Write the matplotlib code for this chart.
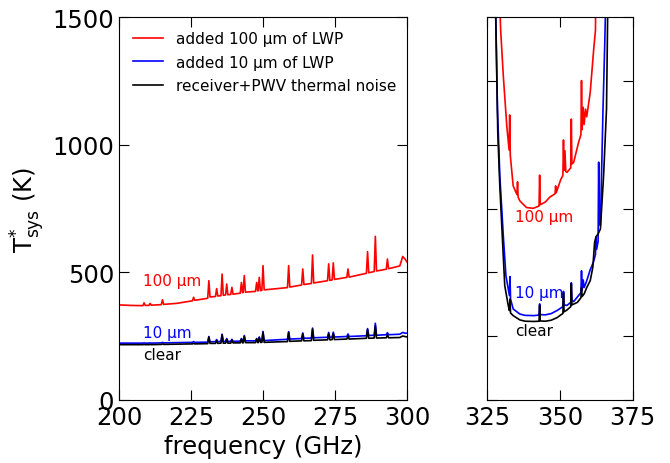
import matplotlib
matplotlib.use("Agg")
import matplotlib.pyplot as plt

# ---- left panel: 200-300 GHz, one frequency grid for all three curves ----
freq_left = [200, 204, 208.3, 208.7, 209.1, 210.4, 210.8, 211.2, 214.7, 215.1,
             215.5, 220, 225.5, 225.9, 226.3, 230.8, 231.2, 231.6, 233.5, 233.9,
             234.3, 235.4, 235.8, 236.2, 237.0, 237.4, 237.8, 238.8, 239.2, 239.6,
             242.1, 242.5, 242.9, 243.1, 243.5, 243.9, 247.4, 247.8, 248.2, 248.3,
             248.7, 249.1, 249.6, 250.0, 250.4, 255, 258.5, 258.9, 259.3, 263.4,
             263.8, 264.2, 266.8, 267.2, 267.6, 272.4, 272.8, 273.2, 274.0, 274.4,
             274.8, 279.1, 279.5, 279.9, 285.9, 286.3, 286.7, 288.6, 289.0, 289.4,
             292.8, 293.2, 293.6, 297.5, 298.5, 299.3, 300]
red_left = [372, 370, 369, 380, 370, 370, 378, 371, 373, 392,
            374, 378, 388, 402, 390, 398, 467, 403, 405, 436,
            407, 408, 493, 410, 411, 454, 412, 413, 441, 414,
            418, 460, 420, 421, 487, 422, 425, 460, 427, 427,
            480, 428, 429, 526, 431, 436, 440, 526, 442, 450,
            513, 452, 456, 568, 458, 467, 533, 468, 470, 537,
            472, 480, 513, 481, 496, 581, 498, 503, 641, 505,
            512, 552, 514, 525, 562, 552, 540]
blue_left = [222, 222, 222, 223, 222, 222, 223, 222, 223, 225,
             223, 224, 225, 228, 225, 226, 248, 227, 228, 236,
             228, 229, 257, 229, 229, 240, 229, 229, 237, 229,
             230, 240, 230, 230, 252, 231, 231, 240, 231, 231,
             246, 232, 232, 268, 232, 235, 237, 267, 238, 240,
             262, 241, 242, 281, 243, 245, 264, 245, 246, 265,
             246, 248, 258, 248, 251, 279, 252, 253, 300, 253,
             255, 263, 255, 257, 264, 261, 261]
black_left = [216, 216, 216, 217, 216, 216, 217, 216, 217, 219,
              217, 218, 219, 221, 219, 220, 246, 221, 221, 232,
              221, 222, 254, 222, 222, 236, 222, 222, 234, 223,
              223, 238, 223, 223, 248, 224, 224, 238, 224, 224,
              244, 225, 225, 264, 225, 227, 228, 264, 229, 231,
              258, 231, 232, 277, 233, 235, 258, 235, 236, 260,
              236, 238, 250, 238, 241, 275, 241, 242, 290, 242,
              243, 255, 243, 244, 250, 248, 246]

# ---- right panel: 325-375 GHz (band edge) ----
freq_red_right = [329.0, 329.6, 330.5, 331.7, 332.5, 332.7, 332.9, 333.9, 335.2, 335.4,
                  335.6, 336.2, 338.5, 340.8, 342.8, 343.0, 343.2, 345, 346.5, 348.3,
                  348.5, 348.7, 350.3, 351.0, 351.2, 351.4, 351.7, 352.0, 352.4, 353.7,
                  353.9, 354.1, 354.7, 356.4, 357.2, 357.4, 357.6, 358.0, 358.3, 358.8,
                  359.2, 360.4, 361.6, 362.2, 362.4]
red_right = [1650, 1450, 1272, 1075, 980, 1117, 960, 839, 805, 855,
             795, 780, 754, 751, 760, 881, 765, 776, 795, 808,
             839, 812, 865, 880, 1019, 900, 977, 895, 892, 910,
             1101, 925, 931, 1010, 1040, 1252, 1060, 1147, 1080, 1140,
             1110, 1206, 1376, 1450, 1700]

freq_blue_right = [327.6, 328.5, 329.3, 330.5, 331.4, 332.6, 332.8, 333.0, 333.9, 336.2,
                   338, 341, 342.8, 343.0, 343.2, 345, 347, 349, 351.0, 351.2,
                   351.4, 352.4, 353.7, 353.9, 354.1, 354.7, 356.4, 357.2, 357.4, 357.6,
                   358.0, 358.3, 359.0, 360.4, 361.5, 362.2, 362.4, 362.6, 363.1, 363.3,
                   363.5, 363.9, 364.8, 365.4, 366.0]
blue_right = [1700, 1141, 880, 644, 487, 409, 483, 395, 356, 336,
              331, 330, 332, 376, 334, 333, 338, 350, 365, 425,
              372, 370, 382, 459, 390, 385, 409, 420, 506, 430,
              470, 440, 460, 510, 540, 570, 637, 590, 620, 932,
              700, 683, 1141, 1400, 1700]

freq_black_right = [327.6, 328.6, 329.3, 331.0, 332.2, 332.6, 332.8, 333.0, 333.9, 336.2,
                    338, 341, 342.8, 343.0, 343.2, 345, 347, 349, 350.3, 351.0,
                    351.2, 351.4, 352.4, 353.7, 353.9, 354.1, 356, 357.2, 357.4, 357.6,
                    358.3, 359.2, 360.4, 361.3, 361.9, 362.4, 363.1, 363.9, 365.0, 366.0,
                    366.6]
black_right = [1700, 1050, 841, 448, 370, 350, 395, 340, 330, 313,
               308, 307, 308, 370, 309, 308, 312, 322, 333, 338,
               420, 345, 352, 365, 455, 372, 382, 400, 440, 405,
               415, 440, 467, 520, 617, 640, 650, 670, 880, 1141,
               1700]

legend_labels = ["added 100 µm of LWP", "added 10 µm of LWP", "receiver+PWV thermal noise"]
curve_labels = ["100 µm", "10 µm", "clear"]
colors = ["red", "blue", "black"]

fig = plt.figure(figsize=(6.70, 4.64), dpi=100)
ax1 = fig.add_axes([0.1776, 0.1364, 0.4299, 0.8239])
ax2 = fig.add_axes([0.7273, 0.1364, 0.2170, 0.8239])

lw = 1.2
ax1.plot(freq_left, red_left, color=colors[0], lw=lw, label=legend_labels[0])
ax1.plot(freq_left, blue_left, color=colors[1], lw=lw, label=legend_labels[1])
ax1.plot(freq_left, black_left, color=colors[2], lw=lw, label=legend_labels[2])

ax2.plot(freq_red_right, red_right, color=colors[0], lw=lw)
ax2.plot(freq_blue_right, blue_right, color=colors[1], lw=lw)
ax2.plot(freq_black_right, black_right, color=colors[2], lw=lw)

# curve labels
ax1.text(208.3, 466, curve_labels[0], color=colors[0], fontsize=11, va="center")
ax1.text(208.3, 262, curve_labels[1], color=colors[1], fontsize=11, va="center")
ax1.text(208.3, 179, curve_labels[2], color=colors[2], fontsize=11, va="center")
ax2.text(334.5, 720, curve_labels[0], color=colors[0], fontsize=11, va="center")
ax2.text(334.5, 421, curve_labels[1], color=colors[1], fontsize=11, va="center")
ax2.text(334.5, 270, curve_labels[2], color=colors[2], fontsize=11, va="center")

ax1.set_xlim(200, 300)
ax1.set_ylim(0, 1500)
ax1.set_xticks([200, 225, 250, 275, 300])
ax1.set_yticks([0, 500, 1000, 1500])
ax1.tick_params(direction="in", top=True, right=True, length=7, labelsize=17.5)
ax1.set_xlabel("frequency (GHz)", fontsize=17.5)
ax1.set_ylabel(r"T$^{*}_{\rm sys}$ (K)", fontsize=17.5)
ax1.legend(loc="upper left", frameon=False, fontsize=11, handlelength=2.0,
           labelspacing=0.55)

ax2.set_xlim(325, 375)
ax2.set_ylim(0, 1500)
ax2.set_xticks([325, 350, 375])
ax2.set_yticks([0, 250, 500, 750, 1000, 1250, 1500])
ax2.tick_params(direction="in", top=True, right=True, length=7, labelsize=17.5,
                labelleft=False)

fig.savefig("out.png", dpi=100)
